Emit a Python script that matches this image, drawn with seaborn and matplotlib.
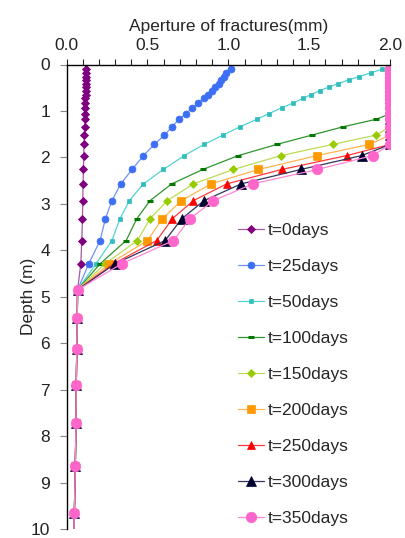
import matplotlib
matplotlib.use("Agg")
import matplotlib.pyplot as plt
import numpy as np
import pandas as pd
import seaborn as sns
from matplotlib.ticker import MultipleLocator

# depth of the grid nodes (m) and fracture aperture (mm) at each time

depth = [0.1, 0.18, 0.26, 0.33, 0.41, 0.49, 0.56, 0.65, 0.73, 0.83, 0.93,
         1.06, 1.18, 1.34, 1.52, 1.72, 1.96, 2.26, 2.57, 2.93, 3.32, 3.79,
         4.29, 4.85, 5.46, 6.13, 6.89, 7.72, 8.64, 9.65, 10.75]

t0 = [0.120, 0.120, 0.119, 0.119, 0.118, 0.118, 0.117, 0.117, 0.116, 0.115,
      0.115, 0.114, 0.113, 0.112, 0.110, 0.108, 0.106, 0.104, 0.102, 0.100,
      0.098, 0.094, 0.088, 0.068, 0.066, 0.063, 0.060, 0.058, 0.054, 0.048,
      0.040]
t25 = [1.017, 0.985, 0.970, 0.955, 0.940, 0.920, 0.900, 0.875, 0.850, 0.815,
       0.776, 0.739, 0.695, 0.652, 0.605, 0.543, 0.475, 0.405, 0.335, 0.280,
       0.240, 0.207, 0.137, 0.068, 0.066, 0.063, 0.060, 0.058, 0.054, 0.048,
       0.040]
t50 = [1.950, 1.880, 1.810, 1.745, 1.680, 1.620, 1.565, 1.510, 1.460, 1.400,
       1.330, 1.250, 1.175, 1.073, 0.966, 0.850, 0.728, 0.598, 0.475, 0.388,
       0.330, 0.280, 0.182, 0.068, 0.066, 0.063, 0.060, 0.058, 0.054, 0.048,
       0.040]
t100 = [2.0, 2.0, 2.0, 2.0, 2.0, 2.0, 2.0, 2.0, 2.0, 2.0,
        2.0, 2.0, 1.913, 1.710, 1.516, 1.300, 1.062, 0.842, 0.650, 0.516,
        0.434, 0.368, 0.207, 0.068, 0.066, 0.063, 0.060, 0.058, 0.054, 0.048,
        0.040]
t150 = [2.0, 2.0, 2.0, 2.0, 2.0, 2.0, 2.0, 2.0, 2.0, 2.0,
        2.0, 2.0, 2.0, 2.0, 1.913, 1.646, 1.326, 1.031, 0.784, 0.623,
        0.516, 0.438, 0.238, 0.068, 0.066, 0.063, 0.060, 0.058, 0.054, 0.048,
        0.040]
t200 = [2.0, 2.0, 2.0, 2.0, 2.0, 2.0, 2.0, 2.0, 2.0, 2.0,
        2.0, 2.0, 2.0, 2.0, 2.0, 1.872, 1.550, 1.186, 0.893, 0.710,
        0.592, 0.500, 0.265, 0.068, 0.066, 0.063, 0.060, 0.058, 0.054, 0.048,
        0.040]
t250 = [2.0, 2.0, 2.0, 2.0, 2.0, 2.0, 2.0, 2.0, 2.0, 2.0,
        2.0, 2.0, 2.0, 2.0, 2.0, 2.0, 1.732, 1.330, 0.990, 0.784,
        0.654, 0.557, 0.290, 0.068, 0.066, 0.063, 0.060, 0.058, 0.054, 0.048,
        0.040]
t300 = [2.0, 2.0, 2.0, 2.0, 2.0, 2.0, 2.0, 2.0, 2.0, 2.0,
        2.0, 2.0, 2.0, 2.0, 2.0, 2.0, 1.825, 1.448, 1.079, 0.850,
        0.712, 0.609, 0.300, 0.068, 0.066, 0.063, 0.060, 0.058, 0.054, 0.048,
        0.040]
t350 = [2.0, 2.0, 2.0, 2.0, 2.0, 2.0, 2.0, 2.0, 2.0, 2.0,
        2.0, 2.0, 2.0, 2.0, 2.0, 2.0, 1.893, 1.550, 1.151, 0.908,
        0.763, 0.660, 0.341, 0.068, 0.066, 0.063, 0.060, 0.058, 0.054, 0.048,
        0.040]

labels = ["t=0days", "t=25days", "t=50days", "t=100days", "t=150days",
          "t=200days", "t=250days", "t=300days", "t=350days"]
series = [t0, t25, t50, t100, t150, t200, t250, t300, t350]

# (marker, size, marker colour, line colour, edge width)
styles = [
    ("D", 3.8, "#7f007f", "#a45aa4", 0.6),
    ("o", 5.0, "#3d6ff5", "#6d94f5", 0.5),
    ("s", 2.3, "#2fbdbd", "#55d2d2", 0.5),
    ("_", 5.0, "#007800", "#2f962f", 2.2),
    ("D", 4.2, "#99cc00", "#bcdc55", 0.5),
    ("s", 5.2, "#ff9900", "#ffb44d", 0.5),
    ("^", 5.5, "#ff0000", "#ff3a3a", 0.5),
    ("^", 7.0, "#00002e", "#34345e", 0.5),
    ("o", 7.6, "#ff66cc", "#ff85d6", 0.5),
]

sns.set_style("ticks")
plt.rcParams["font.family"] = ["Liberation Sans", "DejaVu Sans"]

fig = plt.figure(figsize=(4.06, 5.38), dpi=100)
ax = fig.add_axes([0.164, 1 - 529 / 538, 0.797, (529 - 64.5) / 538])

for lab, vals, (mk, ms, mc, lc, mew) in zip(labels, series, styles):
    df = pd.DataFrame({"aperture": vals, "depth": depth})
    sns.lineplot(data=df, x="aperture", y="depth", sort=False, estimator=None,
                 ax=ax, color=lc, linewidth=0.9, marker=mk, markersize=ms,
                 markerfacecolor=mc, markeredgecolor=mc, markeredgewidth=mew,
                 label=lab, clip_on=True)

ax.set_xlim(0, 2.0)
ax.set_ylim(10, 0)
ax.xaxis.tick_top()
ax.xaxis.set_label_position("top")
ax.xaxis.set_major_locator(MultipleLocator(0.5))
ax.xaxis.set_minor_locator(MultipleLocator(0.1))
ax.xaxis.set_major_formatter(matplotlib.ticker.FormatStrFormatter("%.1f"))
ax.yaxis.set_major_locator(MultipleLocator(1))
ax.tick_params(axis="x", which="both", direction="out", length=4, width=0.8,
               labelsize=12.5, pad=4, colors="#222222")
ax.tick_params(axis="y", direction="out", length=5, width=0.8,
               labelsize=12.5, pad=7, color="#888888", labelcolor="#222222")
ax.set_xlabel("Aperture of fractures(mm)", fontsize=12.5, labelpad=5)
ax.set_ylabel("Depth (m)", fontsize=12.5, labelpad=-4)

for s in ["right", "bottom"]:
    ax.spines[s].set_visible(False)
for s in ["top", "left"]:
    ax.spines[s].set_color("black")
    ax.spines[s].set_linewidth(1.0)

ax.legend(loc="upper left", bbox_to_anchor=(238 / 406, 1 - 223 / 538),
          bbox_transform=fig.transFigure, frameon=False, fontsize=12.5,
          handlelength=1.5, handletextpad=0.2, labelspacing=1.2,
          borderpad=0, borderaxespad=0)

fig.savefig("out.png", dpi=100)
